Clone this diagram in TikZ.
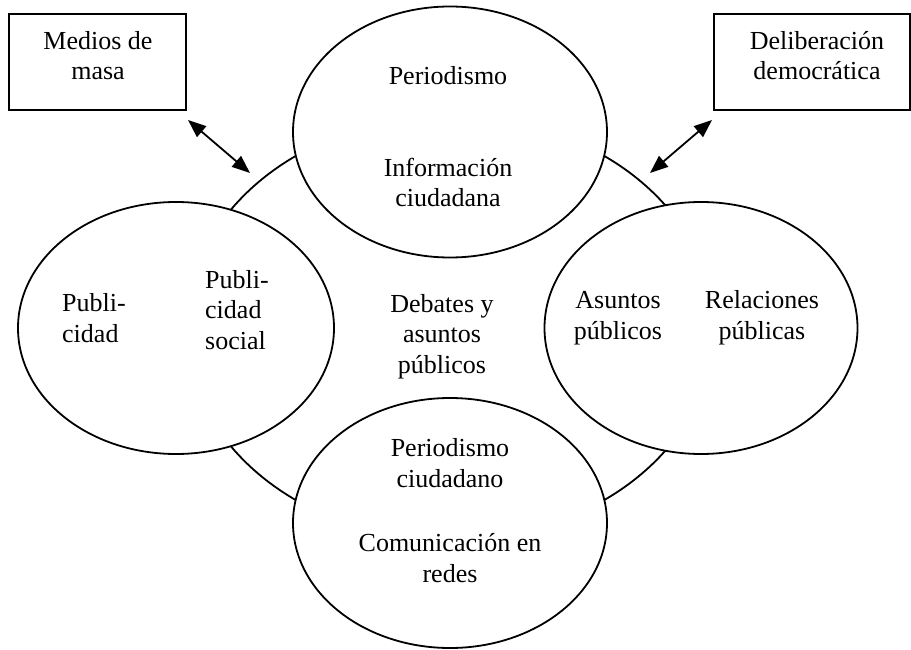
\documentclass[tikz,border=0pt]{standalone}
\usepackage{fontspec}
\setmainfont{Liberation Serif}
\usetikzlibrary{shapes.geometric,arrows.meta}
\begin{document}
\begin{tikzpicture}[x=1pt,y=-1pt,
  oval/.style={ellipse,draw,line width=1.8pt,fill=white,inner sep=0pt},
  box/.style={rectangle,draw,line width=1.8pt,inner sep=0pt},
  txt/.style={font=\fontsize{26}{30.5}\selectfont,inner sep=0pt,anchor=base},
  dbl/.style={line width=1.8pt,{Triangle[length=18pt,width=14pt]}-{Triangle[length=18pt,width=14pt]}}]
\useasboundingbox (0,0) rectangle (911,650);
% large background ellipse
\node[ellipse,draw,line width=1.8pt,inner sep=0pt,minimum width=528pt,minimum height=424pt] (big) at (450,328) {};
% four ovals
\node[oval,minimum width=314pt,minimum height=251pt] (top) at (450,132) {};
\node[oval,minimum width=316pt,minimum height=252pt] (left) at (176,328) {};
\node[oval,minimum width=313pt,minimum height=252pt] (right) at (701,328) {};
\node[oval,minimum width=314pt,minimum height=250pt] (bottom) at (450,523) {};
% boxes
\node[box,minimum width=177pt,minimum height=96pt] (mbox) at (97.5,62) {};
\node[box,minimum width=196pt,minimum height=96pt] (dbox) at (812,62) {};
% texts (base anchor = baseline of the last line)
\node[txt,align=center] (mtxt) at (98,80) {Medios de\\masa};
\node[txt,align=center] (dtxt) at (817,80) {Deliberación\\democrática};
\node[txt] (per1) at (448,85) {Periodismo};
\node[txt,align=center] (inf) at (448,207) {Información\\ciudadana};
\node[txt,align=left,anchor=base west] (pub1) at (62,342) {Publi-\\cidad};
\node[txt,align=left,anchor=base west] (pub2) at (205,349) {Publi-\\cidad\\social};
\node[txt,align=center] (deb) at (442,373) {Debates y\\asuntos\\públicos};
\node[txt,align=center] (asu) at (618,339) {Asuntos\\públicos};
\node[txt,align=center] (rel) at (762,339) {Relaciones\\públicas};
\node[txt,align=center] (per2) at (450,487) {Periodismo\\ciudadano};
\node[txt,align=center] (com) at (450,582) {Comunicación en\\redes};
% arrows
\coordinate (a1) at (188,120);
\coordinate (a2) at (250,173);
\coordinate (b1) at (712,120);
\coordinate (b2) at (650,173);
\draw[dbl] (a1) -- (a2);
\draw[dbl] (b1) -- (b2);
\end{tikzpicture}
\end{document}
